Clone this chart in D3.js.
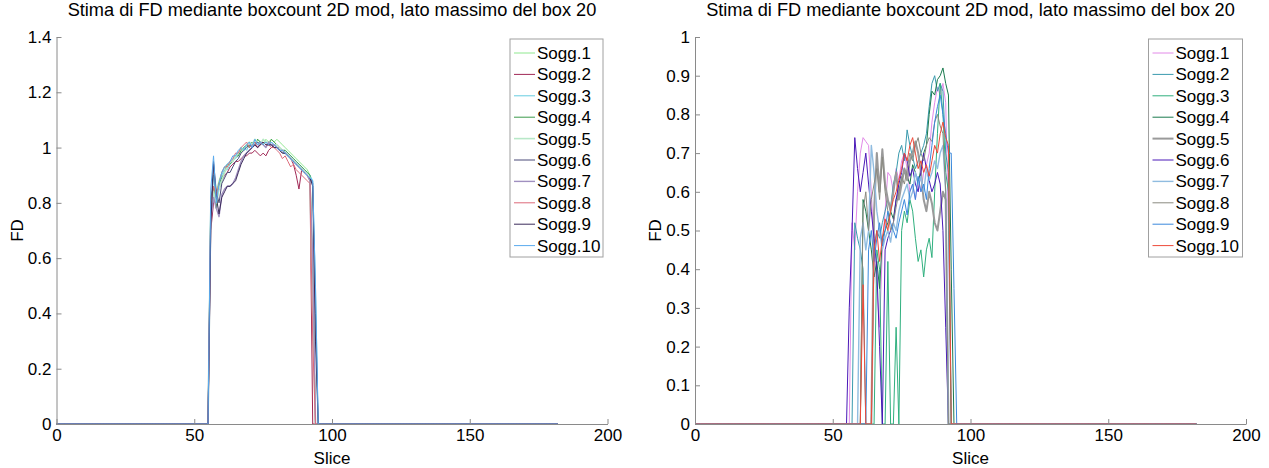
<!DOCTYPE html>
<html>
<head>
<meta charset="utf-8">
<script src="https://cdn.jsdelivr.net/npm/d3@7"></script>
<style>
body { margin: 0; background: #fff; }
svg { display: block; font-family: "Liberation Sans", Arial, Helvetica, sans-serif; }
</style>
</head>
<body>
<svg id="chart" width="1269" height="468"></svg>
<script>
// ---------------- DATA ----------------
const titleText = "Stima di FD mediante boxcount 2D mod, lato massimo del box 20";
const seriesNames = ["Sogg.1","Sogg.2","Sogg.3","Sogg.4","Sogg.5","Sogg.6","Sogg.7","Sogg.8","Sogg.9","Sogg.10"];
const lastSlice = 182;
const xTicks = [0, 50, 100, 150, 200];
const yTicksLeft = [0, 0.2, 0.4, 0.6, 0.8, 1, 1.2, 1.4];
const yTicksRight = [0, 0.1, 0.2, 0.3, 0.4, 0.5, 0.6, 0.7, 0.8, 0.9, 1];

// Left chart: first non-zero slice of each subject and its values (zero elsewhere)
const startLeft = [56, 56, 56, 56, 56, 56, 56, 56, 56, 56];
const left1 = [0.80,0.85,0.84,0.88,0.91,0.93,0.93,0.95,0.95,0.97,0.98,0.98,1.00,1.01,1.00,1.02,1.01,1.03,1.02,1.01,1.03,1.02,1.03,1.02,1.03,1.02,1.01,1.00,0.99,0.98,0.97,0.96,0.95,0.94,0.93,0.92,0.90,0.60];
const left2 = [0.70,0.80,0.82,0.85,0.88,0.90,0.91,0.93,0.94,0.95,0.95,0.96,0.97,0.97,0.98,0.98,0.99,0.98,0.97,0.98,0.97,0.99,1.00,1.01,1.00,1.00,0.99,0.98,0.97,0.96,0.94,0.90,0.85,0.92,0.91,0.90,0.88];
const left3 = [0.76,0.90,0.80,0.86,0.90,0.92,0.92,0.94,0.96,0.96,0.97,0.99,1.00,0.99,1.01,1.00,1.02,1.01,1.02,1.01,1.02,1.01,1.02,1.01,1.01,1.00,0.99,0.99,0.98,0.97,0.96,0.95,0.94,0.93,0.92,0.91,0.90,0.88,0.50];
const left4 = [0.82,0.86,0.78,0.87,0.89,0.91,0.94,0.94,0.95,0.97,0.97,0.99,1.00,1.01,1.00,1.02,1.01,1.03,1.02,1.01,1.02,1.01,1.03,1.02,1.01,1.00,0.99,0.99,0.98,0.97,0.96,0.95,0.94,0.93,0.92,0.91,0.90,0.52];
const left5 = [0.78,0.84,0.80,0.85,0.88,0.91,0.93,0.95,0.95,0.97,0.98,1.00,0.99,1.01,1.02,1.01,1.03,1.02,1.01,1.03,1.02,1.02,1.01,1.01,1.01,1.00,0.99,0.98,0.97,0.96,0.95,0.94,0.93,0.92,0.91,0.90,0.89,0.40];
const left6 = [0.76,0.95,0.84,0.80,0.87,0.89,0.91,0.91,0.93,0.95,0.96,0.98,0.99,1.00,1.01,1.00,1.01,1.02,1.01,1.02,1.01,1.01,1.01,1.00,1.00,0.99,0.98,0.98,0.97,0.96,0.95,0.94,0.93,0.92,0.91,0.90,0.89,0.87,0.40];
const left7 = [0.74,0.82,0.78,0.75,0.83,0.85,0.86,0.86,0.87,0.89,0.92,0.95,0.97,0.98,0.99,1.00,1.01,1.00,1.02,1.01,1.00,1.02,1.01,1.01,1.00,0.99,0.99,0.98,0.97,0.96,0.95,0.94,0.93,0.92,0.91,0.90,0.88,0.60];
const left8 = [0.79,0.86,0.83,0.87,0.91,0.93,0.93,0.95,0.96,0.98,0.98,1.00,1.01,1.02,1.00,1.01,1.02,1.00,1.01,1.02,1.01,1.01,1.00,1.00,0.99,0.98,0.96,0.97,0.95,0.93,0.94,0.92,0.91,0.90,0.89,0.88,0.87,0.30];
const left9 = [0.72,0.94,0.82,0.76,0.82,0.84,0.86,0.86,0.87,0.88,0.91,0.94,0.96,0.98,0.99,1.00,1.01,1.00,1.01,1.02,1.01,1.01,1.01,1.00,1.00,0.99,0.98,0.98,0.97,0.96,0.95,0.94,0.93,0.92,0.91,0.90,0.89,0.86,0.30];
const left10 = [0.85,0.97,0.80,0.87,0.91,0.93,0.94,0.95,0.97,0.97,0.99,1.00,0.99,1.01,1.02,1.00,1.03,1.01,1.02,1.01,1.02,1.01,1.02,1.01,1.00,0.99,0.99,0.98,0.97,0.96,0.95,0.94,0.93,0.92,0.91,0.90,0.89,0.88,0.50];

// Right chart
const startRight = [57, 58, 66, 61, 65, 56, 60, 61, 63, 61];
const right1 = [0.52,0.45,0.60,0.70,0.74,0.73,0.72,0.60,0.45,0.35,0.25,0.45,0.55,0.65,0.64,0.60,0.66,0.63,0.68,0.70,0.66,0.60,0.62,0.58,0.63,0.60,0.65,0.67,0.70,0.78,0.83,0.87,0.85,0.88,0.83,0.50];
const right2 = [0.52,0.48,0.45,0.40,0,0,0,0.45,0.50,0.48,0.52,0.55,0.58,0.56,0.62,0.65,0.70,0.72,0.68,0.76,0.72,0.69,0.66,0.68,0.70,0.72,0.75,0.82,0.88,0.90,0.86,0.88,0.86,0.70,0.65];
const right3 = [0.45,0.40,0,0,0.42,0,0,0.25,0,0.50,0.55,0.52,0.58,0.55,0.48,0.42,0.45,0.38,0.45,0.48,0.43,0.60,0.75,0.88,0.80,0.65,0.60];
const right4 = [0.58,0.55,0.50,0.45,0.38,0.42,0.35,0.48,0.50,0.52,0.55,0.53,0.58,0.60,0.63,0.66,0.64,0.62,0.67,0.65,0.62,0.66,0.70,0.72,0.80,0.86,0.85,0.89,0.90,0.92,0.88,0.85,0.40];
const right5 = [0.55,0.70,0.60,0.71,0.62,0.58,0.55,0.60,0.65,0.58,0.62,0.66,0.63,0.68,0.70,0.73,0.70,0.65,0.58,0.55,0.60,0.57,0.52,0.50,0.55,0.60,0.58];
const right6 = [0.30,0.50,0.74,0.66,0.60,0.65,0.70,0.62,0.55,0.48,0.40,0.20,0,0.45,0.48,0.50,0.52,0.58,0.62,0.65,0.70,0.68,0.64,0.66,0.62,0.60,0.65,0.70,0.66,0.63,0.60,0.62,0.65,0.62,0.50,0.25];
const right7 = [0.48,0.52,0.45,0.50,0.72,0.65,0.55,0.50,0.45,0.48,0.50,0.47,0.52,0.50,0.55,0.58,0.60,0.62,0.58,0.60,0.65,0.62,0.64,0.60,0.66,0.63,0.65,0.68,0.66,0.70,0.72,0.60];
const right8 = [0.55,0.60,0.50,0.58,0.62,0.66,0.58,0.69,0.60,0.55,0.50,0.52,0.56,0.60,0.64,0.62,0.66,0.70,0.68,0.72,0.74,0.70,0.68,0.72,0.74,0.73,0.78,0.80,0.77,0.75,0.60];
const right9 = [0.45,0.50,0.42,0.48,0.52,0.46,0.50,0.55,0.52,0.50,0.48,0.52,0.55,0.58,0.54,0.60,0.62,0.58,0.64,0.60,0.62,0.58,0.66,0.72,0.78,0.82,0.85,0.80,0.75,0.70,0.70,0.35];
const right10 = [0.36,0,0,0,0.45,0.50,0.42,0.48,0.53,0.50,0.55,0.58,0.60,0.63,0.66,0.70,0.68,0.72,0.74,0.70,0.66,0.68,0.65,0.67,0.64,0.68,0.72,0.70,0.75,0.78,0.74,0.72];

const leftValues = [left1,left2,left3,left4,left5,left6,left7,left8,left9,left10];
const rightValues = [right1,right2,right3,right4,right5,right6,right7,right8,right9,right10];

// ---------------- STYLE ----------------
const leftColors = ["#8fe88f","#a02855","#66cce0","#3a9a4a","#b8e8c8","#4a4a78","#a090c0","#dd6a7a","#3a2a5a","#5aaaee"];
const leftWidths = [1,1,1,1,1.6,1,1.4,1,1,1];
const rightColors = ["#e28ae8","#3a9aae","#2fb07e","#1a7a4e","#9a9a9a","#4a18b8","#90bce0","#8a8a80","#3a88dc","#ee4a3a"];
const rightWidths = [1,1,1,1,2,1,1.4,1,1,1];

function fullSeries(start, vals) {
  const out = [];
  for (let s = 0; s <= lastSlice; s++) {
    const i = s - start;
    out.push({x: s, y: (i >= 0 && i < vals.length) ? vals[i] : 0});
  }
  return out;
}

const svg = d3.select("#chart");
const FONT = 17;
const fmt = d => String(+d.toFixed(1));

function drawPanel(cfg) {
  const x = d3.scaleLinear().domain([0, 200]).range([cfg.x0, cfg.x1]);
  const y = d3.scaleLinear().domain([0, cfg.yMax]).range([cfg.yBottom, cfg.yTop]);
  const g = svg.append("g");

  const line = d3.line().x(d => x(d.x)).y(d => y(d.y));
  cfg.values.forEach((vals, k) => {
    g.append("path")
      .datum(fullSeries(cfg.starts[k], vals))
      .attr("fill", "none")
      .attr("stroke", cfg.colors[k])
      .attr("stroke-width", cfg.widths[k])
      .attr("stroke-linejoin", "round")
      .attr("d", line);
  });

  const xAxis = d3.axisBottom(x).tickValues(xTicks).tickSizeInner(-5).tickSizeOuter(0).tickPadding(5).tickFormat(d3.format("d"));
  const yAxis = d3.axisLeft(y).tickValues(cfg.yTicks).tickSizeInner(-5).tickSizeOuter(0).tickPadding(5).tickFormat(fmt);
  const gx = g.append("g").attr("transform", `translate(0,${cfg.yBottom})`).call(xAxis);
  const gy = g.append("g").attr("transform", `translate(${cfg.x0},0)`).call(yAxis);
  [gx, gy].forEach(a => {
    a.selectAll("path, line").attr("stroke", "#8a8a8a");
    a.selectAll("text").attr("fill", "#000").attr("font-size", FONT).attr("font-family", "Liberation Sans, Arial, sans-serif");
  });

  const cx = (cfg.x0 + cfg.x1) / 2;
  g.append("text").attr("x", cx).attr("y", 16).attr("text-anchor", "middle")
    .attr("font-size", 18.2).text(titleText);
  g.append("text").attr("x", cx).attr("y", 464).attr("text-anchor", "middle")
    .attr("font-size", FONT).text("Slice");
  g.append("text").attr("transform", `translate(${cfg.x0 - 34},${(cfg.yTop + cfg.yBottom) / 2}) rotate(-90)`)
    .attr("text-anchor", "middle").attr("font-size", FONT).text("FD");

  const lg = g.append("g");
  lg.append("rect").attr("x", cfg.legX).attr("y", 39).attr("width", cfg.legW).attr("height", 218)
    .attr("fill", "#fff").attr("stroke", "#a0a0a0").attr("stroke-width", 1);
  seriesNames.forEach((name, k) => {
    const yy = 53 + k * 21.4;
    lg.append("line").attr("x1", cfg.legX + 4).attr("x2", cfg.legX + 25).attr("y1", yy).attr("y2", yy)
      .attr("stroke", cfg.colors[k]).attr("stroke-width", cfg.widths[k]);
    lg.append("text").attr("x", cfg.legX + 27).attr("y", yy).attr("dy", "0.35em")
      .attr("font-size", FONT).text(name);
  });
}

drawPanel({x0: 56.5, x1: 607.5, yTop: 37, yBottom: 424, yMax: 1.4, yTicks: yTicksLeft,
  values: leftValues, starts: startLeft, colors: leftColors, widths: leftWidths, legX: 510, legW: 93});
drawPanel({x0: 695, x1: 1246, yTop: 37, yBottom: 424, yMax: 1, yTicks: yTicksRight,
  values: rightValues, starts: startRight, colors: rightColors, widths: rightWidths, legX: 1148.5, legW: 94});
</script>
</body>
</html>
